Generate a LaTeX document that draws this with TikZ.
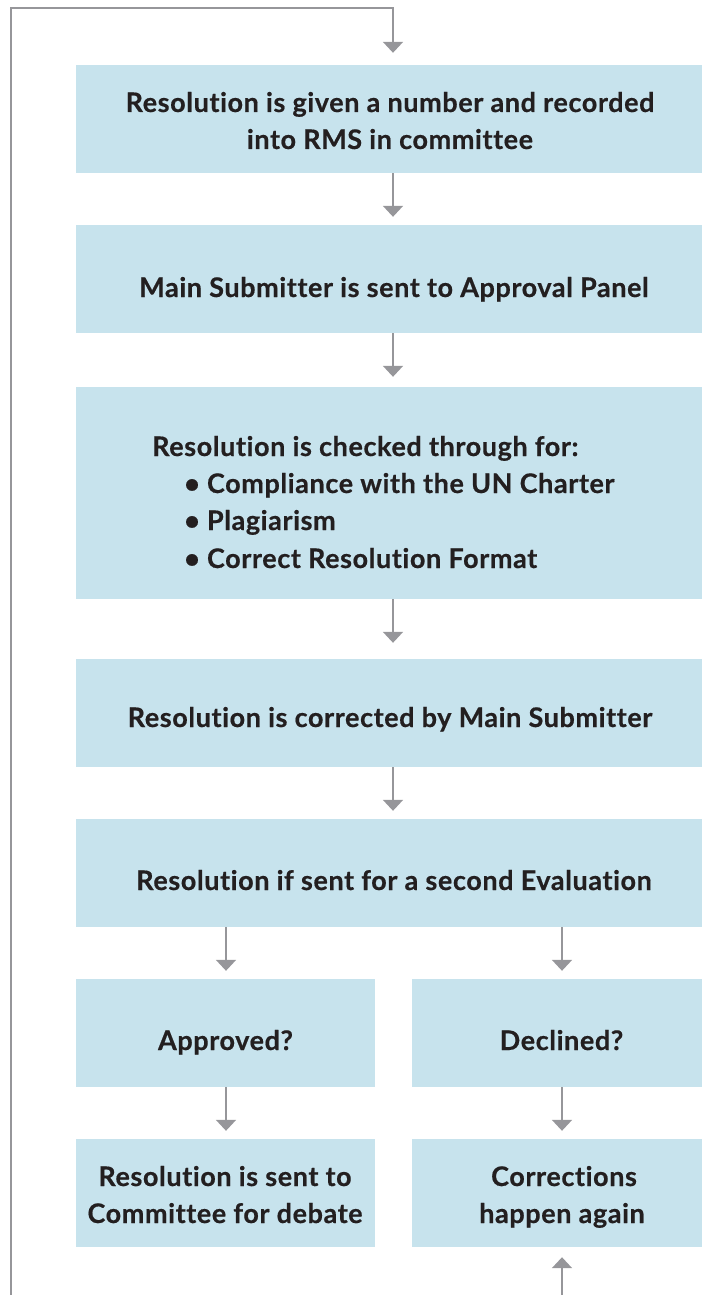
\documentclass[tikz,border=0pt]{standalone}
\usepackage{fontspec}
\setmainfont{Lato}[LetterSpace=2.2, Ligatures={NoCommon}, BoldFeatures={FakeBold=0.5}]
\usetikzlibrary{arrows.meta}
\definecolor{boxblue}{HTML}{C7E3ED}
\definecolor{arrgray}{HTML}{96969A}
\definecolor{ink}{HTML}{231F20}
\begin{document}
\begin{tikzpicture}[x=1pt,y=-1pt,
  box/.style={fill=boxblue, draw=none, inner sep=0pt, minimum width=626pt, minimum height=108pt},
  lbl/.style={text=ink, font=\fontsize{27}{37}\selectfont\bfseries, inner sep=0pt, anchor=base},
  arr/.style={draw=arrgray, line width=2pt, -{Triangle[width=20pt,length=11pt]}}]
\useasboundingbox (0,0) rectangle (702,1295);
% boxes
\node[box] (b1) at (389,119) {};
\node[box] (b2) at (389,279) {};
\node[box, minimum height=212pt] (b3) at (389,493) {};
\node[box] (b4) at (389,713) {};
\node[box] (b5) at (389,873) {};
\node[box, minimum width=299pt] (b6) at (225.5,1033) {};
\node[box, minimum width=290pt] (b7) at (557,1033) {};
\node[box, minimum width=299pt] (b8) at (225.5,1193) {};
\node[box, minimum width=290pt] (b9) at (557,1193) {};
% labels
\node[lbl] (t1a) at (390,112) {Resolution is given a number and recorded};
\node[lbl] (t1b) at (390,149) {into RMS in committee};
\node[lbl] (t2) at (394,297) {Main Submitter is sent to Approval Panel};
\node[lbl, anchor=base west] (t3a) at (152,456) {Resolution is checked through for:};
\node[lbl, anchor=base west] (t3b) at (184,493) {• Compliance with the UN Charter};
\node[lbl, anchor=base west] (t3c) at (184,530) {• Plagiarism};
\node[lbl, anchor=base west] (t3d) at (184,568) {• Correct Resolution Format};
\node[lbl] (t4) at (390,727) {Resolution is corrected by Main Submitter};
\node[lbl] (t5) at (394,890) {Resolution if sent for a second Evaluation};
\node[lbl] (t6) at (225.5,1050) {Approved?};
\node[lbl] (t7) at (561.5,1050) {Declined?};
\node[lbl] (t8a) at (225,1186) {Resolution is sent to};
\node[lbl] (t8b) at (225,1223) {Committee for debate};
\node[lbl] (t9a) at (564,1186) {Corrections};
\node[lbl] (t9b) at (562,1223) {happen again};
% column x positions
\coordinate (cM) at (393,0);
\coordinate (cL) at (226,0);
\coordinate (cR) at (562,0);
% main arrows
\draw[arr, shorten >=8pt] (b1.south -| cM) -- (b2.north -| cM);
\draw[arr, shorten >=10pt] (b2.south -| cM) -- (b3.north -| cM);
\draw[arr, shorten >=16pt] (b3.south -| cM) -- (b4.north -| cM);
\draw[arr, shorten >=8pt] (b4.south -| cM) -- (b5.north -| cM);
\draw[arr, shorten >=8pt] (b5.south -| cL) -- (b6.north -| cL);
\draw[arr, shorten >=8pt] (b5.south -| cR) -- (b7.north -| cR);
\draw[arr, shorten >=8pt] (b6.south -| cL) -- (b8.north -| cL);
\draw[arr, shorten >=8pt] (b7.south -| cR) -- (b9.north -| cR);
% loop back
\coordinate (loopStart) at (11,1295);
\coordinate (loopTop) at (11,8);
\coordinate (loopIn) at (393,8);
\draw[arr, shorten >=12pt] (loopStart) -- (loopTop) -- (loopIn) -- (b1.north -| cM);
\coordinate (retStart) at (562,1295);
\draw[arr, shorten >=10pt] (retStart) -- (b9.south -| cR);
\end{tikzpicture}
\end{document}
